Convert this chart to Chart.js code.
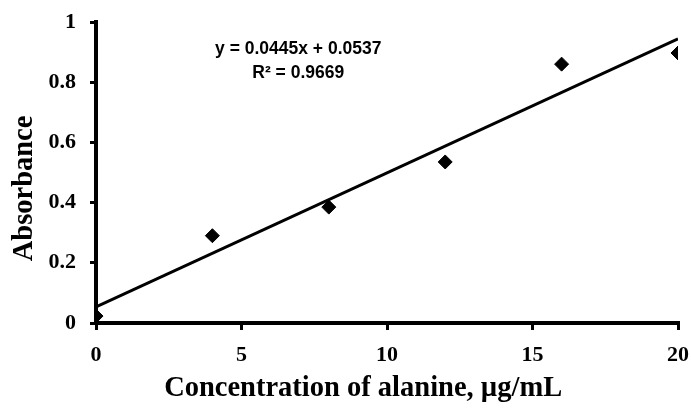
<!DOCTYPE html>
<html>
<head>
<meta charset="utf-8">
<script src="https://cdn.jsdelivr.net/npm/chart.js@4"></script>
<style>
  html, body { margin: 0; padding: 0; background: #fff; }
  #wrap { width: 691px; height: 410px; }
</style>
</head>
<body>
<div id="wrap"><canvas id="grafico" width="691" height="410"></canvas></div>
<script>
// Dados
const concentracao = [0, 4, 8, 12, 16, 20];
const absorbancia = [0.023, 0.29, 0.385, 0.535, 0.86, 0.897];

// Linha de tendência (extremos da reta y = 0.0445x + 0.0537)
const tendenciaX = [0, 20];
const tendenciaY = [0.0537, 0.9437];

// Marcas dos eixos
const ticksX = [0, 5, 10, 15, 20];
const ticksY = [0, 0.2, 0.4, 0.6, 0.8, 1];

const tituloX = 'Concentration of alanine, \u00B5g/mL';
const tituloY = 'Absorbance';
const equacao = ['y = 0.0445x + 0.0537', 'R\u00B2 = 0.9669'];

const pontos = concentracao.map((x, i) => ({ x: x, y: absorbancia[i] }));
const reta = tendenciaX.map((x, i) => ({ x: x, y: tendenciaY[i] }));

const fonteSerif = '"Liberation Serif", "Times New Roman", serif';

// Escreve a equação da reta e os títulos dos eixos
const textos = {
    id: 'textos',
    afterDraw(chart) {
        const ctx = chart.ctx;
        const xs = chart.scales.x;
        const ys = chart.scales.y;
        ctx.save();
        ctx.fillStyle = '#000';
        ctx.textAlign = 'center';
        ctx.textBaseline = 'middle';

        ctx.font = 'bold 17.5px "Liberation Sans", Arial, sans-serif';
        const cx = xs.getPixelForValue(6.95);
        ctx.fillText(equacao[0], cx, ys.getPixelForValue(0.91));
        ctx.fillText(equacao[1], cx, ys.getPixelForValue(0.831));

        // títulos deslocados como no original
        ctx.font = 'bold 28.5px ' + fonteSerif;
        ctx.fillText(tituloX, xs.getPixelForValue(9.18), 389);
        ctx.translate(25, ys.getPixelForValue(0.447));
        ctx.rotate(-Math.PI / 2);
        ctx.fillText(tituloY, 0, 0);
        ctx.restore();
    }
};

const fonteTicks = { family: fonteSerif, size: 22, weight: 'bold' };

const ctx = document.getElementById('grafico').getContext('2d');
new Chart(ctx, {
    type: 'scatter',
    data: {
        datasets: [{
            label: 'Absorbance',
            data: pontos,
            pointStyle: 'rectRot',
            pointRadius: 7,
            pointBackgroundColor: '#000',
            pointBorderColor: '#000',
            pointBorderWidth: 1,
            order: 1
        }, {
            label: 'Linear',
            data: reta,
            showLine: true,
            borderColor: '#000',
            borderWidth: 3,
            pointRadius: 0,
            order: 2
        }]
    },
    options: {
        responsive: false,
        animation: false,
        layout: { padding: { top: 22, right: 13, left: 0, bottom: 0 } },
        plugins: {
            legend: { display: false },
            tooltip: { enabled: false }
        },
        scales: {
            x: {
                type: 'linear',
                min: 0,
                max: 20,
                afterBuildTicks: (s) => { s.ticks = ticksX.map(v => ({ value: v })); },
                afterFit: (s) => {
                    s.height = 87;
                    s.paddingLeft = 0;
                    s.paddingRight = 0;
                },
                grid: {
                    drawOnChartArea: false,
                    color: '#000',
                    tickLength: 7,
                    lineWidth: 3
                },
                border: { color: '#000', width: 4 },
                ticks: { color: '#000', font: fonteTicks, padding: 12, maxRotation: 0 }
            },
            y: {
                min: 0,
                max: 1,
                afterBuildTicks: (s) => { s.ticks = ticksY.map(v => ({ value: v })); },
                afterFit: (s) => {
                    s.width = 96;
                    s.paddingTop = 0;
                    s.paddingBottom = 0;
                },
                grid: {
                    drawOnChartArea: false,
                    color: '#000',
                    tickLength: 6,
                    lineWidth: 3
                },
                border: { color: '#000', width: 4 },
                ticks: { color: '#000', font: fonteTicks, padding: 14, callback: (v) => String(v) }
            }
        }
    },
    plugins: [textos]
});
</script>
</body>
</html>
